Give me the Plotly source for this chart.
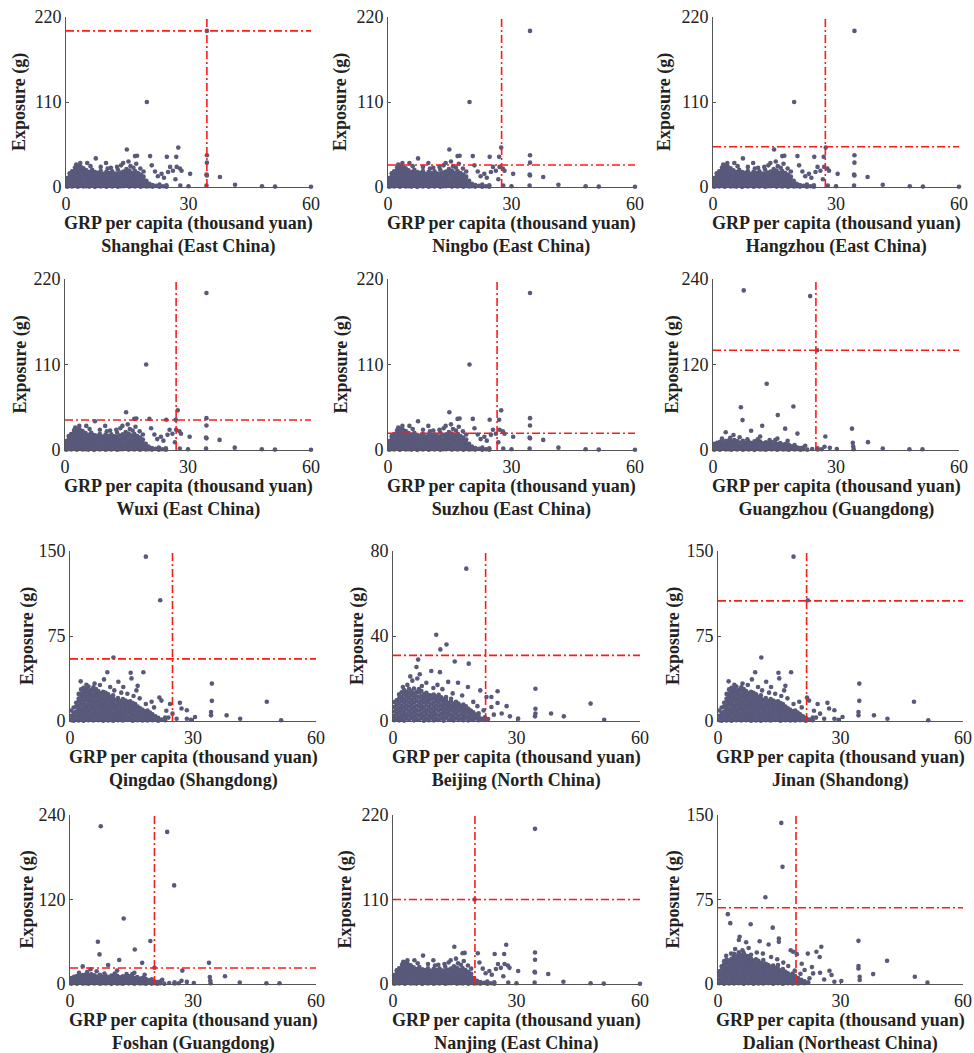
import plotly.graph_objects as go

# ---------------- DATA ----------------
CITIES = ["Shanghai (East China)", "Ningbo (East China)", "Hangzhou (East China)",
          "Wuxi (East China)", "Suzhou (East China)", "Guangzhou (Guangdong)",
          "Qingdao (Shangdong)", "Beijing (North China)", "Jinan (Shandong)",
          "Foshan (Guangdong)", "Nanjing (East China)", "Dalian (Northeast China)"]
REGION = ["east", "east", "east", "east", "east", "gd",
          "sd", "bj", "sd", "gd", "east", "dl"]
Y_MAX = [220, 220, 220, 220, 220, 240, 150, 80, 150, 240, 220, 150]
V_LINE = [34.5, 27.6, 27.4, 27.1, 26.5, 25.1, 25.0, 22.5, 21.7, 20.6, 19.9, 19.1]
H_LINE = [202, 28.5, 52, 38.6, 21.5, 140, 54.8, 30.9, 106, 22.7, 110, 67.7]
X_TICKS = [0, 30, 60]

# dense clouds: [x, [y values]]
EAST_MASS = [
    [0.3, [0.4, 3.8, 7.9, 11.5]], [0.9, [1.2, 5.1, 9.4, 13.6, 17.8]],
    [1.5, [0.6, 4.3, 8.2, 12.7, 16.1, 20.4]], [2.2, [1.5, 5.6, 9.1, 13.2, 17.4, 21.3, 25.2]],
    [2.9, [0.3, 4.1, 7.6, 11.9, 15.8, 19.7, 23.6, 27.4]], [3.6, [1.8, 5.9, 9.8, 14.1, 18.2, 22.5, 26.1]],
    [4.3, [0.7, 3.5, 8.4, 12.3, 16.6, 20.9, 24.3]], [5.0, [1.1, 5.3, 9.2, 13.5, 17.1, 21.7]],
    [5.7, [0.5, 4.6, 8.8, 12.1, 16.4, 19.5]], [6.4, [1.6, 5.2, 10.1, 13.9, 17.6, 22.1]],
    [7.1, [0.2, 4.4, 8.1, 12.6, 15.9, 19.2]], [7.8, [1.3, 6.1, 9.7, 14.4, 18.3]],
    [8.5, [0.8, 3.9, 8.6, 12.2, 16.7, 20.6]], [9.2, [1.9, 5.7, 10.4, 13.1, 17.2]],
    [9.9, [0.4, 4.8, 8.3, 12.9, 16.2, 19.8]], [10.6, [1.4, 5.5, 9.6, 13.8, 18.1]],
    [11.3, [0.6, 4.2, 7.8, 11.7, 15.4, 20.2]], [12.0, [1.7, 6.3, 9.9, 14.2, 17.5]],
    [12.7, [0.3, 4.5, 8.7, 12.4, 16.8, 22.3]], [13.4, [1.0, 5.4, 10.2, 13.3, 18.6]],
    [14.1, [0.9, 3.6, 8.0, 12.8, 16.3, 20.1]], [14.8, [1.6, 5.8, 9.3, 14.6, 18.4, 23.1]],
    [15.5, [0.5, 4.7, 8.9, 12.5, 17.3, 21.2]], [16.2, [1.2, 6.0, 9.5, 13.7, 18.5]],
    [16.9, [0.7, 4.0, 8.5, 12.0, 16.9, 20.8]], [17.6, [1.8, 5.0, 10.3, 14.0, 18.0]],
    [18.3, [0.4, 4.9, 8.4, 12.6, 16.0]], [19.0, [1.3, 5.6, 9.0, 13.4]],
    [19.7, [0.6, 3.7, 7.9]], [20.4, [1.1, 4.3]], [21.2, [0.5, 2.6]], [22.1, [1.4]],
    [22.9, [0.3, 3.1]], [23.8, [1.0]], [24.6, [0.4, 2.2]],
]
EAST_OUT = [
    (19.8, 110), (34.5, 202), (14.9, 48.5), (27.5, 51), (7.3, 37), (16.9, 40), (17.4, 40.5),
    (20.6, 40), (24.7, 39), (27.0, 39), (5.2, 31), (9.8, 31), (14.0, 31), (21.0, 28),
    (25.5, 26), (27.1, 26), (27.9, 24), (23.4, 17), (25.0, 19.5), (30.4, 17), (34.4, 16),
    (34.5, 15), (34.5, 41), (34.5, 31.5), (37.7, 13), (41.4, 3), (48.0, 1), (51.2, 0.5),
    (60, 0.3), (30.0, 1), (34.4, 2), (28, 2), (26.2, 21), (22.5, 14), (24, 12), (12.5, 26),
    (13.5, 28), (15.8, 27), (16.5, 25), (18.2, 24), (11, 25), (3.5, 31), (8.5, 26), (19, 20),
    (21.8, 20), (26.8, 10), (2.5, 29), (6, 27), (10.2, 24), (17.2, 30), (15.3, 33), (28.3, 21),
]

GD_MASS = [
    [0.3, [0.5, 4.2, 8.6]], [1.0, [1.4, 5.8, 10.1]], [1.7, [0.3, 3.9, 7.7, 11.4]],
    [2.4, [1.8, 6.2, 10.8]], [3.1, [0.6, 4.5, 8.9, 12.6]], [3.8, [1.2, 5.6, 9.7, 13.3]],
    [4.5, [0.4, 4.1, 8.3, 12.2]], [5.2, [1.6, 6.0, 10.4, 13.8]], [5.9, [0.8, 4.8, 9.1, 12.4]],
    [6.6, [1.9, 5.3, 10.6]], [7.3, [0.5, 4.4, 8.2, 12.9]], [8.0, [1.3, 6.4, 10.2]],
    [8.7, [0.7, 3.8, 7.9, 11.6]], [9.4, [1.5, 5.5, 9.8]], [10.1, [0.2, 4.6, 8.5, 12.1]],
    [10.8, [1.7, 5.9, 10.0]], [11.5, [0.6, 4.0, 8.8, 11.8]], [12.2, [1.1, 5.2, 9.4]],
    [12.9, [0.4, 4.3, 8.0, 10.9]], [13.6, [1.8, 6.1, 9.6]], [14.3, [0.9, 3.7, 7.6, 11.2]],
    [15.0, [1.4, 5.7, 9.2]], [15.7, [0.3, 4.9, 8.4]], [16.4, [1.6, 5.0, 9.9]],
    [17.1, [0.8, 4.4, 7.8]], [17.8, [1.2, 5.4, 8.7]], [18.5, [0.5, 3.9, 7.2]],
    [19.2, [1.9, 5.1]], [19.9, [0.6, 4.2, 6.8]], [20.6, [1.3, 3.6]], [21.3, [0.4, 2.8]],
    [22.0, [1.0, 3.5]], [23.0, [0.5]], [24.2, [1.5]], [25.5, [0.8, 2.4]], [26.5, [1.1]],
]
GD_OUT = [
    (7.5, 224), (23.7, 216), (25.4, 140), (13.1, 93), (6.8, 60), (19.6, 61), (7.2, 42),
    (15.8, 49), (12.0, 34), (3.1, 25), (9.3, 27), (17.6, 30), (20.6, 23), (5.0, 21),
    (6.5, 18), (10.9, 15), (11.5, 19), (15.2, 14), (15.7, 16), (33.9, 30), (34.1, 10),
    (34.2, 5), (37.8, 11), (27.4, 19), (41.4, 2), (47.9, 1), (51.1, 1), (30.2, 1.5),
    (34.3, 1.2), (2.2, 16), (8.4, 15), (13.8, 14), (18.2, 13), (4.2, 17), (22.5, 6),
    (28.5, 3), (27.2, 4.5),
]

SD_MASS = [
    [0.3, [0.8, 4.6, 9.3]], [0.9, [0.3, 3.4, 7.2, 11.9]], [1.5, [1.1, 4.9, 8.3, 12.6, 16.0]],
    [2.1, [0.5, 3.8, 6.7, 10.4, 13.2, 17.1, 19.8, 23.9]],
    [2.7, [1.6, 4.4, 8.1, 11.0, 14.9, 17.6, 21.5, 24.2, 27.9]],
    [3.3, [0.2, 3.1, 6.8, 9.6, 13.5, 16.2, 19.9, 23.4, 26.1, 29.3]],
    [3.9, [1.9, 5.2, 8.0, 11.8, 14.6, 18.5, 21.2, 25.0, 28.2]],
    [4.5, [0.7, 3.6, 7.4, 10.2, 13.9, 17.4, 20.1, 23.9, 26.8, 30.4]],
    [5.1, [1.4, 4.3, 7.6, 11.4, 14.2, 17.9, 21.3, 24.1, 27.5]],
    [5.7, [0.4, 3.9, 6.9, 10.6, 13.4, 16.7, 20.6, 23.2, 26.9, 29.7]],
    [6.3, [1.7, 5.0, 8.6, 11.3, 15.2, 18.0, 21.7, 24.6, 28.3]],
    [6.9, [0.6, 4.2, 7.1, 10.9, 13.7, 17.3, 20.2, 23.6, 26.4]],
    [7.5, [1.2, 4.7, 7.9, 11.6, 14.4, 17.8, 21.0, 24.4]],
    [8.1, [0.3, 3.5, 6.6, 10.0, 13.3, 16.6, 19.7, 23.1, 25.8]],
    [8.7, [1.8, 4.8, 8.4, 11.2, 15.0, 18.3, 21.6, 24.9]],
    [9.3, [0.5, 3.7, 7.3, 10.7, 13.6, 17.1, 20.4, 23.5]],
    [9.9, [1.3, 4.5, 7.8, 11.5, 14.8, 17.7, 21.1]],
    [10.5, [0.2, 3.3, 6.5, 10.3, 13.1, 16.4, 19.5, 22.6]],
    [11.1, [1.6, 5.1, 8.2, 11.7, 14.5, 18.6]],
    [11.7, [0.7, 3.8, 7.0, 10.4, 13.9, 17.2, 20.3]],
    [12.3, [1.0, 4.4, 7.7, 11.1, 14.3, 17.5]],
    [12.9, [0.4, 3.6, 6.8, 10.1, 13.7, 16.3, 19.4]],
    [13.5, [1.5, 4.9, 8.0, 11.4, 14.6, 18.1]],
    [14.1, [0.9, 4.0, 7.5, 10.8, 13.8, 16.9]],
    [14.7, [1.1, 4.3, 7.9, 11.0, 14.2, 17.4]],
    [15.3, [0.3, 3.4, 6.7, 10.2, 13.0, 15.8]],
    [15.9, [1.7, 4.8, 8.3, 11.6, 14.9]],
    [16.5, [0.6, 4.1, 7.2, 10.5, 12.7]],
    [17.1, [1.4, 4.6, 7.8, 11.3]],
    [17.7, [0.5, 3.9, 7.0, 9.8]],
    [18.3, [1.9, 5.2, 8.5]],
    [18.9, [0.4, 3.6, 6.9, 9.2]],
    [19.5, [1.2, 4.4, 7.5]],
    [20.1, [0.7, 3.2, 6.0]],
    [20.8, [1.6, 4.1]], [21.5, [0.3, 2.8]], [22.3, [1.2]], [23.2, [0.6, 3.0]],
]
SD_OUT = [
    (18.5, 145), (22, 106.5), (10.6, 56), (9.1, 43), (14.8, 42.6), (17.9, 43), (2.6, 35),
    (8.3, 36.7), (11.8, 34.6), (15, 37.6), (7.3, 31.7), (9.8, 30), (13, 30), (16.5, 31),
    (21.8, 20.7), (22.3, 18), (24.4, 15), (26.8, 16), (19.9, 17), (27.2, 11), (28.5, 9.5),
    (34.6, 33), (34.6, 17.8), (34.4, 8), (34.4, 5), (48, 17), (38.2, 5), (41.5, 2),
    (51.5, 0.6), (30.5, 3.5), (28.5, 2), (25, 6.5), (14, 24), (15.5, 22), (17, 20),
    (18.5, 15), (12.5, 25), (10.8, 27), (16.2, 27), (20.5, 12), (23.5, 9), (6, 33), (4, 32),
    (24, 3), (26, 2), (29.5, 1),
]

BJ_MASS = [
    [0.3, [0.4, 2.3, 4.5, 6.6, 8.9]], [0.9, [1.2, 3.3, 5.4, 7.7, 9.8]],
    [1.5, [0.3, 2.1, 4.2, 6.3, 8.5, 10.6, 12.4]], [2.1, [1.1, 3.0, 5.1, 7.2, 9.4, 11.3, 13.5]],
    [2.7, [0.2, 2.4, 4.3, 6.5, 8.6, 10.5, 12.7, 14.6]], [3.3, [1.3, 3.2, 5.5, 7.4, 9.6, 11.7, 13.8]],
    [3.9, [0.5, 2.6, 4.6, 6.8, 8.8, 11.0, 13.1, 15.2]], [4.5, [1.5, 3.5, 5.7, 7.8, 9.9, 12.1, 14.0]],
    [5.1, [0.3, 2.2, 4.4, 6.4, 8.7, 10.8, 12.9, 15.3]], [5.7, [1.0, 3.1, 5.2, 7.3, 9.5, 11.6, 13.6]],
    [6.3, [0.6, 2.7, 4.8, 6.9, 9.0, 11.2, 13.4, 15.0]], [6.9, [1.4, 3.4, 5.6, 7.6, 9.7, 11.9, 14.1]],
    [7.5, [0.2, 2.3, 4.5, 6.6, 8.8, 10.9, 12.6]], [8.1, [1.2, 3.3, 5.3, 7.5, 9.6, 11.5, 13.3]],
    [8.7, [0.4, 2.5, 4.7, 6.7, 8.9, 10.8, 12.2]], [9.3, [1.6, 3.6, 5.8, 7.9, 10.1, 12.0]],
    [9.9, [0.3, 2.4, 4.4, 6.5, 8.6, 10.7, 12.5]], [10.5, [1.1, 3.2, 5.4, 7.4, 9.5, 11.4]],
    [11.1, [0.5, 2.6, 4.8, 6.8, 8.9, 10.6, 12.3]], [11.7, [1.3, 3.4, 5.5, 7.6, 9.8, 11.1]],
    [12.3, [0.2, 2.2, 4.3, 6.4, 8.4, 10.3]], [12.9, [1.5, 3.5, 5.7, 7.7, 9.7, 11.3]],
    [13.5, [0.6, 2.7, 4.6, 6.6, 8.5]], [14.1, [1.0, 3.0, 5.1, 7.2, 9.3, 10.5]],
    [14.7, [0.3, 2.4, 4.5, 6.5, 8.1]], [15.3, [1.4, 3.5, 5.6, 7.5, 9.0]],
    [15.9, [0.5, 2.5, 4.7, 6.7, 8.2]], [16.5, [1.2, 3.2, 5.3, 7.1]],
    [17.1, [0.4, 2.3, 4.4, 6.3, 7.8]], [17.7, [1.6, 3.6, 5.5, 6.9]],
    [18.3, [0.3, 2.1, 4.2, 5.8]], [18.9, [1.1, 3.1, 4.9]], [19.5, [0.5, 2.4, 4.1]],
    [20.1, [1.3, 3.0]], [20.8, [0.4, 2.2, 3.6]], [21.5, [1.0]], [22.3, [0.5, 1.8]], [23.1, [0.9]],
]
BJ_OUT = [
    (17.8, 71.7), (10.5, 40.6), (13, 36), (11.5, 33.7), (6.1, 28.9), (5.7, 25.4), (9.3, 23.5),
    (11.4, 23), (15, 28), (18.4, 27), (2.4, 16), (4.7, 19), (5.9, 20), (8.1, 18), (13.4, 18.4),
    (15.8, 18), (18.2, 16), (21.2, 14.4), (22.7, 11.3), (23.9, 11.3), (25.4, 14), (25.4, 8.5),
    (27.6, 7), (23.9, 6.6), (34.6, 15.2), (34.6, 5.8), (34.6, 3.5), (34.5, 2.2), (38.4, 3.5),
    (41.5, 2.2), (48, 8.2), (51.3, 0.6), (30.4, 1.1), (28.4, 2.2), (26.4, 3.5), (3.5, 17),
    (7, 16.5), (9.8, 15.5), (12, 15), (14.5, 13), (16.8, 12), (19.5, 9), (20.5, 7), (22, 5),
    (24.5, 3), (1.5, 12.5), (10.8, 17), (6.5, 22), (4.2, 21),
]

DL_MASS = [
    [0.3, [0.6, 4.2, 7.9, 11.3]], [0.9, [1.5, 5.0, 8.7, 12.4, 15.8]],
    [1.5, [0.3, 3.7, 7.1, 10.6, 14.0, 17.5, 20.3]], [2.1, [1.2, 4.6, 8.0, 11.5, 14.9, 18.4, 21.6]],
    [2.7, [0.5, 3.9, 7.4, 10.8, 14.3, 17.7, 20.9]], [3.3, [1.8, 5.3, 8.6, 12.1, 15.5, 18.9, 22.4]],
    [3.9, [0.4, 3.6, 7.0, 10.4, 13.8, 17.2, 20.7, 24.1, 26.9]],
    [4.5, [1.3, 4.7, 8.2, 11.6, 15.1, 18.5, 22.0, 25.3]],
    [5.1, [0.7, 4.1, 7.6, 11.0, 14.4, 17.9, 21.3, 24.7, 28.2]],
    [5.7, [1.6, 5.0, 8.5, 11.9, 15.3, 18.8, 22.2, 25.6]],
    [6.3, [0.2, 3.5, 6.9, 10.3, 13.7, 17.1, 20.6, 24.0, 27.4]],
    [6.9, [1.4, 4.8, 8.3, 11.7, 15.2, 18.6, 22.1, 25.1]],
    [7.5, [0.6, 4.0, 7.5, 10.9, 14.3, 17.8, 21.2, 24.6]],
    [8.1, [1.9, 5.2, 8.7, 12.1, 15.6, 19.0, 22.3, 26.0]],
    [8.7, [0.3, 3.7, 7.2, 10.6, 14.0, 17.4, 20.8]], [9.3, [1.1, 4.5, 8.0, 11.4, 14.8, 18.2, 21.9]],
    [9.9, [0.5, 3.9, 7.3, 10.8, 14.2, 17.6, 20.5]], [10.5, [1.7, 5.1, 8.5, 12.0, 15.4, 18.7]],
    [11.1, [0.4, 3.6, 7.0, 10.5, 13.9, 17.3, 21.2]], [11.7, [1.3, 4.7, 8.1, 11.5, 14.9, 18.0]],
    [12.3, [0.8, 4.2, 7.6, 11.0, 14.5, 16.9]], [12.9, [1.5, 4.9, 8.4, 11.8, 15.2]],
    [13.5, [0.2, 3.4, 6.8, 10.2, 13.6, 16.4]], [14.1, [1.2, 4.6, 8.0, 11.3, 14.3]],
    [14.7, [0.6, 4.0, 7.4, 10.7, 13.5, 16.8]], [15.3, [1.8, 5.1, 8.6, 11.9]],
    [15.9, [0.3, 3.7, 7.1, 10.4, 13.2]], [16.5, [1.4, 4.8, 8.2, 10.9]],
    [17.1, [0.7, 4.1, 7.5, 9.6]], [17.7, [1.6, 5.0, 8.1]], [18.3, [0.4, 3.5, 6.7, 9.2]],
    [18.9, [1.2, 4.3, 7.0]], [19.6, [0.5, 2.9, 5.3]], [20.4, [1.3, 3.8]], [21.2, [0.6, 2.5]],
    [22.1, [1.4]],
]
DL_OUT = [
    (15.5, 143), (15.8, 104), (11.6, 77), (2.4, 62), (3.0, 54), (8.0, 53), (13.4, 50),
    (14.9, 40.4), (14.9, 37.4), (12.4, 35), (10.2, 38), (6.9, 37), (5.3, 42), (5.1, 39),
    (17.8, 30), (18.4, 28.6), (19.3, 26.5), (25.3, 33), (24.1, 28.6), (24.9, 24), (22.0, 27),
    (34.4, 38.3), (34.4, 16), (34.4, 13.8), (34.7, 6.5), (34.7, 3.5), (41.4, 20.6), (38.0, 8.8),
    (48.2, 6.5), (51.3, 1.2), (30.2, 2.6), (27.3, 11.8), (27.8, 8), (23.3, 9.4), (22.4, 5),
    (21.2, 12.4), (4.2, 31), (6.0, 30), (7.5, 32), (9.5, 28), (11.0, 27), (13.0, 24),
    (14.5, 22), (16.0, 19), (17.2, 16), (18.8, 12), (20.2, 9), (2.0, 25), (3.2, 27),
    (26, 4), (28.5, 2), (25, 10), (23, 15), (20.5, 18),
]

DATASETS = {"east": (EAST_MASS, EAST_OUT), "gd": (GD_MASS, GD_OUT),
            "sd": (SD_MASS, SD_OUT), "bj": (BJ_MASS, BJ_OUT), "dl": (DL_MASS, DL_OUT)}


def expand(key):
    mass, out = DATASETS[key]
    xs, ys = [], []
    for x, col in mass:
        for y in col:
            xs.append(x)
            ys.append(y)
    for x, y in out:
        xs.append(x)
        ys.append(y)
    return xs, ys


# ---------------- LAYOUT (pixel geometry) ----------------
W, H = 974, 1053
COL_X = [[(66, 311), (388, 635), (713, 959)],
         [(65, 311), (388, 635), (713, 959)],
         [(70, 316), (393, 640), (718, 963)],
         [(70, 316), (393, 640), (718, 963)]]
ROW_Y = [(17, 187), (279, 450), (551, 721), (815, 984)]
YT_X = [[20, 341, 665], [20, 341, 672], [27, 357, 673], [27, 345, 673]]

SERIF = "Liberation Serif, Times New Roman, serif"
DOT = "#58597b"
RED = "#ff1a1a"

fig = go.Figure()
layout = dict(width=W, height=H, margin=dict(l=0, r=0, t=0, b=0, pad=0),
              paper_bgcolor="white", plot_bgcolor="white", showlegend=False,
              annotations=[])

for i in range(12):
    r, c = divmod(i, 3)
    n = "" if i == 0 else str(i + 1)
    x0, x1 = COL_X[r][c]
    yt, yb = ROW_Y[r]
    ymax = Y_MAX[i]
    xs, ys = expand(REGION[i])
    fig.add_trace(go.Scatter(x=xs, y=ys, mode="markers", xaxis="x" + n, yaxis="y" + n,
                             marker=dict(size=4.6, color=DOT), cliponaxis=False,
                             hoverinfo="skip"))
    fig.add_trace(go.Scatter(x=[V_LINE[i], V_LINE[i]], y=[0, ymax], mode="lines",
                             xaxis="x" + n, yaxis="y" + n,
                             line=dict(color=RED, width=1.6, dash="8px,3px,2px,3px")))
    fig.add_trace(go.Scatter(x=[0, 60], y=[H_LINE[i], H_LINE[i]], mode="lines",
                             xaxis="x" + n, yaxis="y" + n,
                             line=dict(color=RED, width=1.6, dash="8px,3px,2px,3px")))
    axcommon = dict(showgrid=False, zeroline=False, showline=True, linecolor="#555",
                    linewidth=1, ticks="inside", ticklen=3, tickcolor="#555",
                    automargin=False,
                    tickfont=dict(family=SERIF, size=18, color="#222"))
    layout["xaxis" + n] = dict(domain=[x0 / W, x1 / W], range=[0, 60], anchor="y" + n,
                               tickvals=X_TICKS, ticktext=[str(t) for t in X_TICKS],
                               **axcommon)
    ytv = [0, ymax // 2, ymax]
    layout["yaxis" + n] = dict(domain=[1 - yb / H, 1 - yt / H], range=[0, ymax],
                               anchor="x" + n, tickvals=ytv,
                               ticktext=[str(t) for t in ytv], **axcommon)
    cx = (x0 + x1) / 2
    layout["annotations"].append(dict(
        text="<b>GRP per capita (thousand yuan)</b><br><b>" + CITIES[i] + "</b>",
        x=cx / W, y=1 - (yb + 47.5) / H,
        xref="paper", yref="paper", showarrow=False, xanchor="center", yanchor="middle",
        font=dict(family=SERIF, size=18, color="#222")))
    layout["annotations"].append(dict(
        text="<b>Exposure (g)</b>", x=YT_X[r][c] / W, y=1 - ((yt + yb) / 2) / H,
        xref="paper", yref="paper", showarrow=False, xanchor="center", yanchor="middle",
        textangle=-90, font=dict(family=SERIF, size=18, color="#222")))

fig.update_layout(**layout)

POST = """
var gd = document.getElementById('{plot_id}');
var de = document.documentElement, bd = document.body;
de.style.margin = '0'; de.style.padding = '0'; de.style.overflow = 'hidden';
bd.style.margin = '0'; bd.style.padding = '0'; bd.style.overflow = 'hidden';
var w = window.innerWidth || 974, h = window.innerHeight || 1053;
gd.style.width = w + 'px'; gd.style.height = h + 'px';
if (Math.abs(w - 974) > 1 || Math.abs(h - 1053) > 1) {
  Plotly.relayout(gd, {width: w, height: h});
}
"""
fig.write_html("out.html", config={"displayModeBar": False}, post_script=POST)
